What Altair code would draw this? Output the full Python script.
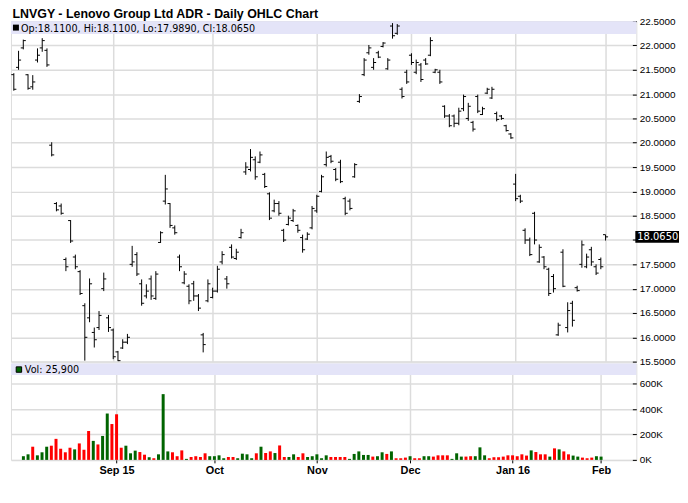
import altair as alt
import pandas as pd

# ---------------- data ----------------
highs = [21.43, 21.89, 22.12, 21.41, 21.39, 21.94, 22.15, 21.94, 20.01, 18.78,
         18.75, 17.64, 18.41, 17.70, 17.38, 16.70, 17.21, 16.20, 16.54, 17.33,
         16.46, 16.18, 15.72, 15.96, 16.07, 17.88, 17.75, 17.19, 17.09, 17.27,
         17.36, 18.18, 19.34, 18.76, 18.30, 17.70, 17.36, 17.09, 17.16, 16.89,
         16.09, 17.19, 17.02, 17.47, 17.77, 17.26, 17.91, 17.82, 18.23, 19.60,
         19.87, 19.72, 19.82, 19.38, 18.98, 18.83, 18.80, 18.23, 18.50, 18.64,
         18.32, 18.11, 18.16, 18.70, 18.93, 19.34, 19.82, 19.75, 19.48, 19.65,
         18.89, 18.85, 19.58, 21.00, 21.74, 22.01, 21.74, 21.89, 22.07, 21.74,
         22.46, 22.44, 21.14, 21.50, 21.84, 21.71, 21.64, 21.74, 22.17, 21.52,
         21.50, 20.77, 20.59, 20.58, 20.72, 20.99, 20.82, 20.45, 20.99, 20.74,
         21.13, 21.15, 20.64, 20.57, 20.37, 20.20, 19.36, 18.93, 18.24, 18.05,
         18.58, 17.91, 17.67, 17.43, 17.30, 16.30, 17.81, 16.72, 16.75, 17.06,
         17.99, 17.72, 17.86, 17.50, 17.64, 18.11]
lows = [21.07, 21.50, 21.92, 21.09, 21.09, 21.65, 21.87, 21.56, 19.72, 18.59,
        18.52, 17.36, 17.94, 17.40, 16.87, 15.52, 16.31, 15.79, 16.15, 16.95,
        16.11, 15.55, 15.51, 15.76, 15.86, 17.45, 17.26, 16.65, 16.80, 16.77,
        16.77, 17.94, 18.73, 18.25, 18.11, 17.36, 17.09, 16.68, 16.75, 16.54,
        15.69, 16.72, 16.80, 16.92, 17.50, 17.00, 17.62, 17.59, 18.03, 19.34,
        19.41, 19.24, 19.58, 19.07, 18.41, 18.57, 18.50, 17.96, 18.30, 18.37,
        18.15, 17.74, 18.00, 18.22, 18.56, 18.98, 19.51, 19.58, 19.21, 19.17,
        18.51, 18.61, 19.28, 20.82, 21.37, 21.81, 21.50, 21.74, 21.96, 21.50,
        22.14, 22.22, 20.91, 21.21, 21.60, 21.41, 21.25, 21.60, 21.78, 21.43,
        21.21, 20.51, 20.32, 20.32, 20.36, 20.65, 20.45, 20.23, 20.61, 20.57,
        21.00, 20.90, 20.44, 20.47, 20.23, 20.08, 18.80, 18.76, 17.92, 17.67,
        17.91, 17.53, 17.40, 16.85, 16.92, 16.03, 17.03, 16.10, 16.22, 16.94,
        17.43, 17.42, 17.47, 17.28, 17.40, 17.989]
opens = [21.40, 21.55, 21.95, 21.40, 21.15, 21.70, 21.95, 21.90, 19.95, 18.75,
         18.70, 17.60, 18.40, 17.65, 17.35, 16.65, 16.40, 16.10, 16.20, 17.00,
         16.40, 16.15, 15.70, 15.78, 15.90, 17.50, 17.70, 17.10, 16.85, 17.20,
         16.80, 17.95, 18.80, 18.75, 18.25, 17.65, 17.12, 17.05, 17.10, 16.85,
         16.05, 16.75, 16.82, 16.95, 17.55, 17.20, 17.85, 17.62, 18.05, 19.40,
         19.45, 19.65, 19.60, 19.35, 18.95, 18.60, 18.75, 18.20, 18.32, 18.40,
         18.30, 18.05, 18.02, 18.25, 18.60, 19.00, 19.55, 19.72, 19.45, 19.60,
         18.85, 18.80, 19.30, 20.85, 21.40, 21.85, 21.55, 21.85, 21.98, 21.52,
         22.40, 22.25, 21.10, 21.45, 21.80, 21.45, 21.60, 21.70, 21.80, 21.45,
         21.45, 20.75, 20.55, 20.55, 20.40, 20.70, 20.50, 20.42, 20.95, 20.58,
         21.02, 20.92, 20.60, 20.55, 20.35, 20.18, 19.15, 18.90, 18.20, 18.00,
         18.55, 17.55, 17.65, 17.40, 17.25, 16.05, 17.75, 16.20, 16.70, 17.02,
         17.50, 17.45, 17.80, 17.45, 17.60, 18.11]
closes = [21.10, 21.70, 22.10, 21.12, 21.25, 21.80, 22.10, 21.60, 19.75, 18.62,
          18.55, 17.45, 17.98, 17.45, 16.90, 16.00, 17.10, 15.95, 16.45, 17.20,
          16.20, 15.60, 15.52, 15.90, 16.00, 17.55, 17.30, 16.70, 16.95, 16.85,
          17.30, 18.15, 19.05, 18.30, 18.15, 17.45, 17.30, 16.75, 16.85, 16.60,
          15.85, 17.10, 16.95, 17.40, 17.70, 17.10, 17.65, 17.75, 18.15, 19.50,
          19.70, 19.30, 19.75, 19.10, 18.45, 18.75, 18.55, 18.00, 18.45, 18.60,
          18.20, 17.80, 18.12, 18.65, 18.90, 19.30, 19.70, 19.62, 19.25, 19.20,
          18.55, 18.65, 19.55, 20.95, 21.70, 21.95, 21.65, 21.76, 22.05, 21.70,
          22.20, 22.40, 20.95, 21.25, 21.65, 21.65, 21.30, 21.62, 22.10, 21.50,
          21.25, 20.55, 20.35, 20.40, 20.65, 20.95, 20.75, 20.28, 20.65, 20.70,
          21.10, 21.10, 20.48, 20.50, 20.25, 20.10, 18.85, 18.80, 18.00, 17.70,
          18.00, 17.85, 17.45, 16.90, 17.00, 16.25, 17.05, 16.55, 16.35, 16.96,
          17.90, 17.65, 17.55, 17.32, 17.45, 18.065]
volumes_k = [0, 29, 44, 104, 36, 60, 104, 112, 166, 88,
             60, 96, 83, 130, 80, 228, 150, 122, 189, 366,
             283, 360, 96, 112, 52, 73, 62, 41, 21, 13,
             44, 519, 67, 60, 29, 75, 8, 23, 29, 23,
             52, 29, 29, 36, 13, 23, 23, 13, 49, 44,
             13, 52, 104, 54, 67, 54, 114, 23, 23, 44,
             23, 52, 23, 29, 44, 13, 36, 23, 23, 23,
             23, 8, 47, 67, 39, 39, 26, 29, 60, 47,
             67, 13, 13, 18, 29, 13, 13, 29, 29, 26,
             36, 36, 36, 8, 52, 26, 26, 29, 29, 99,
             36, 13, 21, 21, 26, 36, 36, 29, 44, 34,
             75, 62, 44, 44, 26, 91, 83, 67, 44, 34,
             26, 18, 13, 18, 29, 25.9]
vol_dir = ["up", "up", "up", "down", "up", "up", "up", "down", "down", "down",
           "down", "down", "up", "down", "down", "down", "up", "down", "up", "up",
           "down", "down", "down", "up", "up", "up", "down", "down", "up", "down",
           "up", "up", "up", "down", "down", "down", "up", "down", "down", "down",
           "down", "up", "up", "up", "up", "down", "down", "up", "up", "up",
           "up", "down", "up", "down", "down", "up", "down", "down", "up", "up",
           "down", "down", "up", "up", "up", "up", "up", "down", "down", "down",
           "down", "up", "up", "up", "up", "up", "down", "up", "up", "down",
           "up", "down", "down", "down", "up", "down", "down", "up", "up", "down",
           "down", "down", "down", "up", "up", "up", "down", "down", "up", "up",
           "up", "down", "down", "down", "down", "down", "down", "down", "down", "down",
           "up", "down", "down", "down", "up", "down", "up", "down", "down", "up",
           "up", "down", "down", "down", "up", "up"]

month_idx = [21, 42, 64, 84, 106, 125]
month_lbl = ["Sep 15", "Oct", "Nov", "Dec", "Jan 16", "Feb"]
price_ticks = [15.5, 16.0, 16.5, 17.0, 17.5, 18.0, 18.5, 19.0, 19.5,
               20.0, 20.5, 21.0, 21.5, 22.0, 22.5]
vol_ticks = [0, 200000, 400000, 600000]

title_txt = "LNVGY - Lenovo Group Ltd ADR - Daily OHLC Chart"
last_txt = "Op:18.1100, Hi:18.1100, Lo:17.9890, Cl:18.0650"
vol_txt = "Vol: 25,900"
last_close = 18.065
last_close_txt = "18.0650"

# ---------------- build ----------------
n = len(highs)
df = pd.DataFrame({
    "idx": list(range(n)),
    "open": opens, "high": highs, "low": lows, "close": closes,
    "vol": [v * 1000 for v in volumes_k], "dir": vol_dir,
})

W = 630
H1 = 343
H2 = 97
TFONT = "Liberation Sans"
FONT = "DejaVu Sans"


def xs():
    return alt.Scale(domain=[-0.6, 131.5], nice=False, zero=False)


def ys():
    return alt.Scale(domain=[15.5, 22.5], nice=False, zero=False)


vs = alt.Scale(domain=[0, 760000], nice=False, zero=False)

lbl_expr = " : ".join(
    f"datum.value == {i} ? '{l}'" for i, l in zip(month_idx, month_lbl)) + " : ''"
# the last-price box sits on top of the 18.0000 label in the reference
price_expr = "abs(datum.value - 18) < 0.001 ? '' : format(datum.value, '.4f')"

one = pd.DataFrame({"k": [0]})

band1 = alt.Chart(one).mark_rect(color="#e4e4f8").encode(
    x=alt.value(0), x2=alt.value(W), y=alt.value(0), y2=alt.value(13))

base = alt.Chart(df)
hl = base.mark_rule(color="#000", strokeWidth=1).encode(
    x=alt.X("idx:Q", scale=xs(),
            axis=alt.Axis(values=month_idx, grid=True, labels=False, ticks=False,
                          domain=False, title=None, gridColor="#dcdcdc", gridWidth=1.5)),
    y=alt.Y("low:Q", scale=ys(),
            axis=alt.Axis(orient="right", values=price_ticks, labelExpr=price_expr,
                          grid=True, tickSize=4, offset=-4, domain=False, title=None,
                          labelFlush=False, labelOverlap=False, labelPadding=3,
                          labelSeparation=0,
                          tickColor="#000", gridColor="#dcdcdc", gridWidth=1.5)),
    y2="high:Q")
op = base.mark_tick(orient="horizontal", size=2.5, thickness=1, xOffset=-1.3,
                    color="#000", opacity=1).encode(
    x=alt.X("idx:Q", scale=xs(), axis=None), y=alt.Y("open:Q", scale=ys(), axis=None))
cl = base.mark_tick(orient="horizontal", size=2.5, thickness=1, xOffset=1.3,
                    color="#000", opacity=1).encode(
    x=alt.X("idx:Q", scale=xs(), axis=None), y=alt.Y("close:Q", scale=ys(), axis=None))

title_mark = alt.Chart(one).mark_text(
    text=title_txt, font=TFONT, fontSize=12.5, fontWeight="bold", align="left",
    baseline="alphabetic", color="#000").encode(x=alt.value(1.5), y=alt.value(-3))
hdr_sq = alt.Chart(one).mark_square(size=36, color="#000", opacity=1, filled=True).encode(
    x=alt.value(5), y=alt.value(6.5))
hdr_txt = alt.Chart(one).mark_text(
    text=last_txt, font=FONT, fontSize=9.7, align="left", baseline="alphabetic",
    color="#000").encode(x=alt.value(10), y=alt.value(10.5))

last_df = pd.DataFrame({"p": [last_close], "t": [last_close_txt]})
last_box = alt.Chart(last_df).mark_rect(color="#000", height=12).encode(
    x=alt.value(W - 1), x2=alt.value(W + 43), y=alt.Y("p:Q", scale=ys(), axis=None))
last_lbl = alt.Chart(last_df).mark_text(
    font=FONT, fontSize=10, align="left", baseline="middle", color="#fff").encode(
    x=alt.value(W + 1), y=alt.Y("p:Q", scale=ys(), axis=None), text="t:N")

top = alt.layer(band1, hl, op, cl, title_mark, hdr_sq, hdr_txt, last_box, last_lbl
                ).resolve_scale(x="independent", y="independent"
                ).properties(width=W, height=H1)

band2 = alt.Chart(one).mark_rect(color="#e4e4f8").encode(
    x=alt.value(0), x2=alt.value(W), y=alt.value(0), y2=alt.value(11.5))
bars = base.mark_bar(width=3).encode(
    x=alt.X("idx:Q", scale=xs(),
            axis=alt.Axis(values=month_idx, labelExpr=lbl_expr, grid=True, ticks=True,
                          tickSize=3, domain=False, title=None, labelFontWeight="bold",
                          labelFont=TFONT, labelFontSize=11,
                          labelPadding=2, gridColor="#dcdcdc", gridWidth=1.5,
                          tickColor="#000")),
    y=alt.Y("vol:Q", scale=vs,
            axis=alt.Axis(orient="right", values=vol_ticks,
                          labelExpr="format(datum.value/1000, 'd') + 'K'", grid=True,
                          tickSize=4, offset=-4, domain=False, title=None,
                          labelFlush=False, labelPadding=3, labelOverlap=False,
                          tickColor="#000", gridColor="#dcdcdc", gridWidth=1.5)),
    color=alt.Color("dir:N", scale=alt.Scale(domain=["up", "down"],
                                             range=["#006400", "#ff0000"]), legend=None))
vol_sq = alt.Chart(one).mark_square(size=30, color="#006400", opacity=1, filled=True,
                                    stroke="#000", strokeWidth=1).encode(
    x=alt.value(8), y=alt.value(6))
vol_lbl = alt.Chart(one).mark_text(
    text=vol_txt, font=FONT, fontSize=9.7, align="left", baseline="alphabetic",
    color="#000").encode(x=alt.value(14), y=alt.value(9.5))

bottom = alt.layer(band2, bars, vol_sq, vol_lbl).properties(width=W, height=H2)

chart = alt.vconcat(top, bottom, spacing=2, bounds="flush").properties(
    padding={"left": 2, "top": -2.5, "right": 0, "bottom": 0}
).configure_view(stroke="#000", strokeWidth=1).configure_axis(
    labelFont=FONT, labelFontSize=10, labelColor="#000", labelOverlap=False
).configure(background="#ffffff")

chart.save("out.html", embed_options={"renderer": "svg", "actions": False})
